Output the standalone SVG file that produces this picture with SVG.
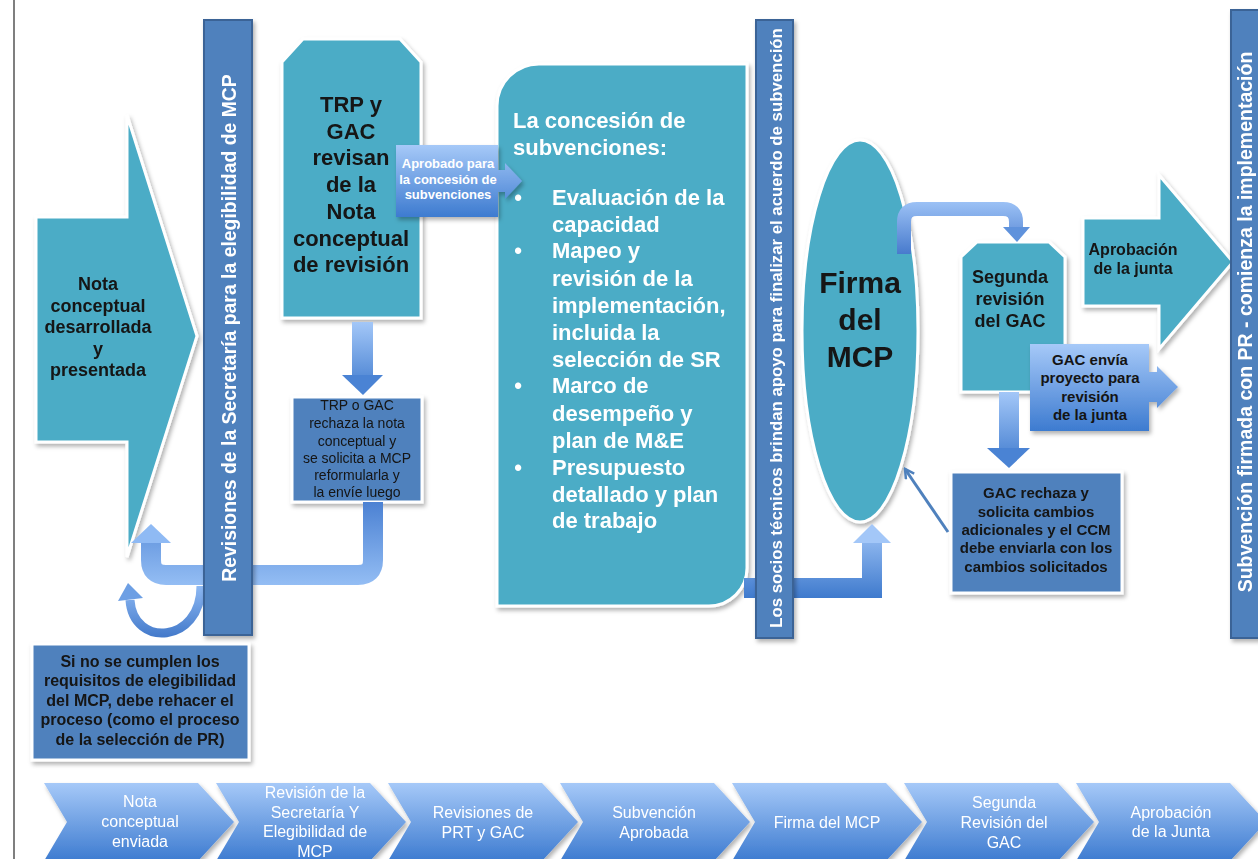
<svg xmlns="http://www.w3.org/2000/svg" width="1258" height="859" viewBox="0 0 1258 859">
<defs>
<style>
.f{font-family:"Liberation Sans",Arial,Helvetica,sans-serif}
.b{font-weight:bold}
.dk{fill:#141414}
.wt{fill:#ffffff}
.m{text-anchor:middle}
.teal{fill:#4bacc6;stroke:#ffffff;stroke-width:3}
.box{fill:#4f81bd;stroke:#ffffff;stroke-width:3}
.bar{fill:#4f81bd;stroke:#3a6496;stroke-width:2}
</style>
<filter id="sh" x="-15%" y="-15%" width="135%" height="135%">
<feDropShadow dx="2" dy="3" stdDeviation="2.2" flood-color="#000" flood-opacity="0.3"/>
</filter>
<linearGradient id="gb" x1="0" y1="0" x2="0" y2="1">
<stop offset="0" stop-color="#a6c9f8"/><stop offset="1" stop-color="#3d7bd0"/>
</linearGradient>
<linearGradient id="gU" gradientUnits="userSpaceOnUse" x1="0" y1="500" x2="0" y2="590">
<stop offset="0" stop-color="#4a80d2"/><stop offset="1" stop-color="#98c1f6"/>
</linearGradient>
<linearGradient id="gTop" gradientUnits="userSpaceOnUse" x1="0" y1="200" x2="0" y2="255">
<stop offset="0" stop-color="#9fc4f7"/><stop offset="1" stop-color="#4679cc"/>
</linearGradient>
<linearGradient id="gBot" gradientUnits="userSpaceOnUse" x1="0" y1="524" x2="0" y2="600">
<stop offset="0" stop-color="#a3c7f8"/><stop offset="1" stop-color="#3c78cc"/>
</linearGradient>
<linearGradient id="gD1" gradientUnits="userSpaceOnUse" x1="0" y1="322" x2="0" y2="396">
<stop offset="0" stop-color="#a3c7f8"/><stop offset="1" stop-color="#3c78cc"/>
</linearGradient>
<linearGradient id="gD2" gradientUnits="userSpaceOnUse" x1="0" y1="392" x2="0" y2="469">
<stop offset="0" stop-color="#a3c7f8"/><stop offset="1" stop-color="#3c78cc"/>
</linearGradient>
<linearGradient id="gC" gradientUnits="userSpaceOnUse" x1="0" y1="585" x2="0" y2="640">
<stop offset="0" stop-color="#8fbaf4"/><stop offset="1" stop-color="#3f76c8"/>
</linearGradient>
<marker id="open" viewBox="0 0 12 12" refX="10" refY="6" markerWidth="12" markerHeight="12" markerUnits="userSpaceOnUse" orient="auto">
<polyline points="1,1 10,6 1,11" fill="none" stroke="#4f81bd" stroke-width="2.5"/>
</marker>
</defs>

<rect x="0" y="0" width="1258" height="859" fill="#ffffff"/>
<line x1="14" y1="0" x2="14" y2="859" stroke="#7f7f7f" stroke-width="2"/>

<g id="node-nota" filter="url(#sh)">
<polygon class="teal" points="36,217 127,217 127,115 197,336 127,557 127,442 36,442"/>
<text class="f b dk m" font-size="18"><tspan x="98" y="290">Nota</tspan><tspan x="98" y="311.5">conceptual</tspan><tspan x="98" y="333">desarrollada</tspan><tspan x="98" y="354.5">y</tspan><tspan x="98" y="376">presentada</tspan></text>
</g>

<g id="node-trp" filter="url(#sh)">
<polygon class="teal" points="282,62 303,39 400,39 421,62 421,318 282,318"/>
<text class="f b dk m" font-size="22"><tspan x="351" y="112">TRP y</tspan><tspan x="351" y="138.7">GAC</tspan><tspan x="351" y="165.4">revisan</tspan><tspan x="351" y="192">de la</tspan><tspan x="351" y="218.8">Nota</tspan><tspan x="351" y="245.5">conceptual</tspan><tspan x="351" y="272">de revisión</tspan></text>
</g>

<g id="node-rechazo-trp" filter="url(#sh)">
<rect class="box" x="292" y="397" width="130" height="105"/>
<text class="f dk m" font-size="14"><tspan x="357" y="410">TRP o GAC</tspan><tspan x="357" y="428">rechaza la nota</tspan><tspan x="357" y="446">conceptual y</tspan><tspan x="357" y="463">se solicita a MCP</tspan><tspan x="357" y="480">reformularla y</tspan><tspan x="357" y="497">la envíe luego</tspan></text>
</g>

<g id="node-concesion" filter="url(#sh)">
<path class="teal" d="M539,64 H747 V568 A38,38 0 0 1 709,606 H497 V106 A42,42 0 0 1 539,64 Z"/>
<text class="f b wt" font-size="22"><tspan x="513" y="128">La concesión de</tspan><tspan x="513" y="155">subvenciones:</tspan></text>
<text class="f b wt m" font-size="22"><tspan x="518" y="205">•</tspan><tspan x="518" y="258">•</tspan><tspan x="518" y="393">•</tspan><tspan x="518" y="475">•</tspan></text>
<text class="f b wt" font-size="22"><tspan x="552" y="205">Evaluación de la</tspan><tspan x="552" y="232">capacidad</tspan><tspan x="552" y="258">Mapeo y</tspan><tspan x="552" y="286">revisión de la</tspan><tspan x="552" y="313">implementación,</tspan><tspan x="552" y="340">incluida la</tspan><tspan x="552" y="367">selección de SR</tspan><tspan x="552" y="393">Marco de</tspan><tspan x="552" y="421">desempeño y</tspan><tspan x="552" y="448">plan de M&amp;E</tspan><tspan x="552" y="475">Presupuesto</tspan><tspan x="552" y="502">detallado y plan</tspan><tspan x="552" y="528">de trabajo</tspan></text>
</g>

<g id="node-firma" filter="url(#sh)">
<ellipse class="teal" cx="860" cy="331" rx="58" ry="191"/>
<text class="f b dk m" font-size="30"><tspan x="860" y="293">Firma</tspan><tspan x="860" y="330">del</tspan><tspan x="860" y="367">MCP</tspan></text>
</g>

<g id="node-segunda" filter="url(#sh)">
<polygon class="teal" points="961,257 977,242 1049,242 1065,257 1065,392 961,392"/>
<text class="f b dk m" font-size="18"><tspan x="1010" y="283">Segunda</tspan><tspan x="1010" y="305">revisión</tspan><tspan x="1010" y="327">del GAC</tspan></text>
</g>

<g id="node-aprobacion" filter="url(#sh)">
<polygon class="teal" points="1083,218 1159,218 1159,175 1233,262 1159,349 1159,306 1083,306"/>
<text class="f b dk m" font-size="16"><tspan x="1133" y="255">Aprobación</tspan><tspan x="1133" y="274">de la junta</tspan></text>
</g>

<g id="node-rechazo-gac" filter="url(#sh)">
<rect class="box" x="951" y="472" width="171" height="121"/>
<text class="f b dk m" font-size="15"><tspan x="1036" y="498">GAC rechaza y</tspan><tspan x="1036" y="517">solicita cambios</tspan><tspan x="1036" y="535">adicionales y el CCM</tspan><tspan x="1036" y="553">debe enviarla con los</tspan><tspan x="1036" y="572">cambios solicitados</tspan></text>
</g>

<g id="node-elegibilidad" filter="url(#sh)">
<rect class="box" x="32" y="644" width="217" height="116"/>
<text class="f b dk m" font-size="16"><tspan x="140" y="667">Si no se cumplen los</tspan><tspan x="140" y="686">requisitos de elegibilidad</tspan><tspan x="140" y="706">del MCP, debe rehacer el</tspan><tspan x="140" y="725">proceso (como el proceso</tspan><tspan x="140" y="745">de la selección de PR)</tspan></text>
</g>

<g id="connectors">
<path d="M373,502 V560 Q373,575 358,575 H166 Q151,575 151,560 V542" fill="none" stroke="url(#gU)" stroke-width="20"/>
<polygon points="131,543 171,543 151,524" fill="#8fbaf4"/>
<path d="M201,586 C201,644 133,648 130,600" fill="none" stroke="url(#gC)" stroke-width="9"/>
<polygon points="118,601 128,583 143,598" fill="#6d9fe4"/>
<rect x="352" y="322" width="21" height="54" fill="url(#gD1)"/>
<polygon points="342,375 383,375 363,395" fill="#4a83d4"/>
<polygon points="396,145 498,145 498,170 505,170 505,163 522,181 505,199 505,192 498,192 498,217 396,217" fill="url(#gb)" filter="url(#sh)"/>
<text class="f b wt m" font-size="13"><tspan x="448" y="168">Aprobado para</tspan><tspan x="448" y="183.5">la concesión de</tspan><tspan x="448" y="199">subvenciones</tspan></text>
<path d="M744,588 H872 V542" fill="none" stroke="url(#gBot)" stroke-width="20"/>
<polygon points="853,543 891,543 872,524" fill="#a3c7f8"/>
<path d="M904,254 V222 Q904,209 917,209 H1003 Q1016,209 1016,222 V229" fill="none" stroke="url(#gTop)" stroke-width="14"/>
<polygon points="1003,227 1030,227 1017,242" fill="#5f92dc"/>
<rect x="999" y="392" width="20" height="57" fill="url(#gD2)"/>
<polygon points="987,448 1030,448 1009,468" fill="#4a83d4"/>
<polygon points="1030,344 1149,344 1149,372 1157,372 1157,366 1178,387 1157,408 1157,402 1149,402 1149,431 1030,431" fill="url(#gb)" filter="url(#sh)"/>
<text class="f b dk m" font-size="15"><tspan x="1090" y="365">GAC envía</tspan><tspan x="1090" y="383">proyecto para</tspan><tspan x="1090" y="402">revisión</tspan><tspan x="1090" y="420">de la junta</tspan></text>
<line x1="948" y1="532" x2="905" y2="469" stroke="#4f81bd" stroke-width="3" marker-end="url(#open)"/>
</g>

<g id="bar-secretaria" filter="url(#sh)">
<rect class="bar" x="204" y="20" width="48" height="615"/>
<text class="f b wt m" font-size="19.4" transform="translate(236,328) rotate(-90)">Revisiones de la Secretaría para la elegibilidad de MCP</text>
</g>

<g id="bar-socios" filter="url(#sh)">
<rect class="bar" x="756" y="20" width="37" height="618"/>
<text class="f b wt m" font-size="16.8" transform="translate(782,328) rotate(-90)">Los socios técnicos brindan apoyo para finalizar el acuerdo de subvención</text>
</g>

<g id="bar-subvencion" filter="url(#sh)">
<rect class="bar" x="1231" y="10" width="45" height="628"/>
<text class="f b wt m" font-size="19.5" transform="translate(1252,322) rotate(-90)">Subvención firmada con PR - comienza la implementación</text>
</g>

<g id="timeline">
<g id="step-1" filter="url(#sh)">
<polygon points="44,783 198,783 234,822 198,861 44,861 67,822" fill="url(#gb)"/>
<text class="f wt m" font-size="16"><tspan x="140" y="807">Nota</tspan><tspan x="140" y="827">conceptual</tspan><tspan x="140" y="847">enviada</tspan></text>
</g>
<g id="step-2" filter="url(#sh)">
<polygon points="216,783 370,783 406,822 370,861 216,861 239,822" fill="url(#gb)"/>
<text class="f wt m" font-size="16"><tspan x="315" y="798">Revisión de la</tspan><tspan x="315" y="818">Secretaría Y</tspan><tspan x="315" y="837">Elegibilidad de</tspan><tspan x="315" y="857">MCP</tspan></text>
</g>
<g id="step-3" filter="url(#sh)">
<polygon points="388,783 542,783 578,822 542,861 388,861 411,822" fill="url(#gb)"/>
<text class="f wt m" font-size="16"><tspan x="483" y="818">Revisiones de</tspan><tspan x="483" y="838">PRT y GAC</tspan></text>
</g>
<g id="step-4" filter="url(#sh)">
<polygon points="560,783 714,783 750,822 714,861 560,861 583,822" fill="url(#gb)"/>
<text class="f wt m" font-size="16"><tspan x="654" y="818">Subvención</tspan><tspan x="654" y="838">Aprobada</tspan></text>
</g>
<g id="step-5" filter="url(#sh)">
<polygon points="732,783 886,783 922,822 886,861 732,861 755,822" fill="url(#gb)"/>
<text class="f wt m" font-size="16"><tspan x="827" y="828">Firma del MCP</tspan></text>
</g>
<g id="step-6" filter="url(#sh)">
<polygon points="904,783 1058,783 1094,822 1058,861 904,861 927,822" fill="url(#gb)"/>
<text class="f wt m" font-size="16"><tspan x="1004" y="808">Segunda</tspan><tspan x="1004" y="828">Revisión del</tspan><tspan x="1004" y="848">GAC</tspan></text>
</g>
<g id="step-7" filter="url(#sh)">
<polygon points="1076,783 1230,783 1266,822 1230,861 1076,861 1099,822" fill="url(#gb)"/>
<text class="f wt m" font-size="16"><tspan x="1171" y="818">Aprobación</tspan><tspan x="1171" y="837">de la Junta</tspan></text>
</g>
</g>
</svg>
